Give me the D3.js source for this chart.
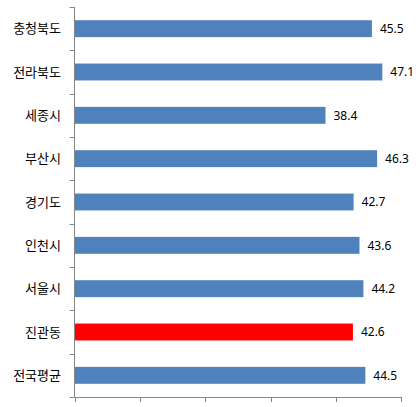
<!DOCTYPE html>
<html><head><meta charset="utf-8">
<script src="https://cdn.jsdelivr.net/npm/d3@7"></script>
<style>body{margin:0;background:#fff;}svg{display:block;}</style>
</head><body>
<script>
const categories = ["충청북도","전라북도","세종시","부산시","경기도","인천시","서울시","진관동","전국평균"];
const values = [45.5,47.1,38.4,46.3,42.7,43.6,44.2,42.6,44.5];
const highlight = ["진관동"];
const xTicks = [0,10,20,30,40,50];

(function(){
const W = 420, H = 407;
const mLeft = 74.5, mRight = 401.3, mTop = 7, mBottom = 397;
const svg = d3.select("body").append("svg").attr("width", W).attr("height", H);

const x = d3.scaleLinear().domain([0,50]).range([mLeft, mRight]);
const y = d3.scaleBand().domain(categories).range([mTop, mBottom]).paddingInner(0.61).paddingOuter(0.305);
const yEdges = d3.scaleLinear().domain([0, categories.length]).range([mTop, mBottom]);

svg.selectAll("rect.bar").data(categories).enter().append("rect")
  .attr("x", x(0)).attr("y", d => y(d))
  .attr("width", (d,i) => x(values[i]) - x(0))
  .attr("height", y.bandwidth())
  .attr("fill", d => highlight.includes(d) ? "#FF0000" : "#4F81BD");

const axisColor = "#868686";
svg.append("line").attr("x1", mLeft).attr("x2", mLeft).attr("y1", mTop).attr("y2", mBottom)
  .attr("stroke", axisColor).attr("stroke-width", 1);
svg.selectAll("line.yt").data(d3.range(categories.length + 1)).enter().append("line")
  .attr("x1", mLeft - 5).attr("x2", mLeft).attr("y1", d => Math.round(yEdges(d)) + 0.5).attr("y2", d => Math.round(yEdges(d)) + 0.5)
  .attr("stroke", axisColor);
svg.append("line").attr("x1", mLeft).attr("x2", mRight).attr("y1", mBottom + 0.5).attr("y2", mBottom + 0.5)
  .attr("stroke", axisColor);
svg.selectAll("line.xt").data(xTicks).enter().append("line")
  .attr("x1", d => Math.round(x(d)) + 0.5).attr("x2", d => Math.round(x(d)) + 0.5)
  .attr("y1", mBottom).attr("y2", mBottom + 5).attr("stroke", axisColor);

svg.selectAll("text.cat").data(categories).enter().append("text")
  .attr("x", 61).attr("y", d => y(d) + y.bandwidth()/2)
  .attr("dy", "0.35em").attr("text-anchor", "end")
  .attr("font-family", "'Noto Sans CJK KR', sans-serif").attr("font-size", 13)
  .attr("fill", "#000").text(d => d);

svg.selectAll("text.val").data(categories).enter().append("text")
  .attr("x", (d,i) => x(values[i]) + 8).attr("y", d => y(d) + y.bandwidth()/2)
  .attr("dy", "0.35em")
  .attr("font-family", "'Noto Sans', sans-serif").attr("font-size", 12)
  .attr("fill", "#000").text((d,i) => values[i].toFixed(1));
})();
</script>
</body></html>
